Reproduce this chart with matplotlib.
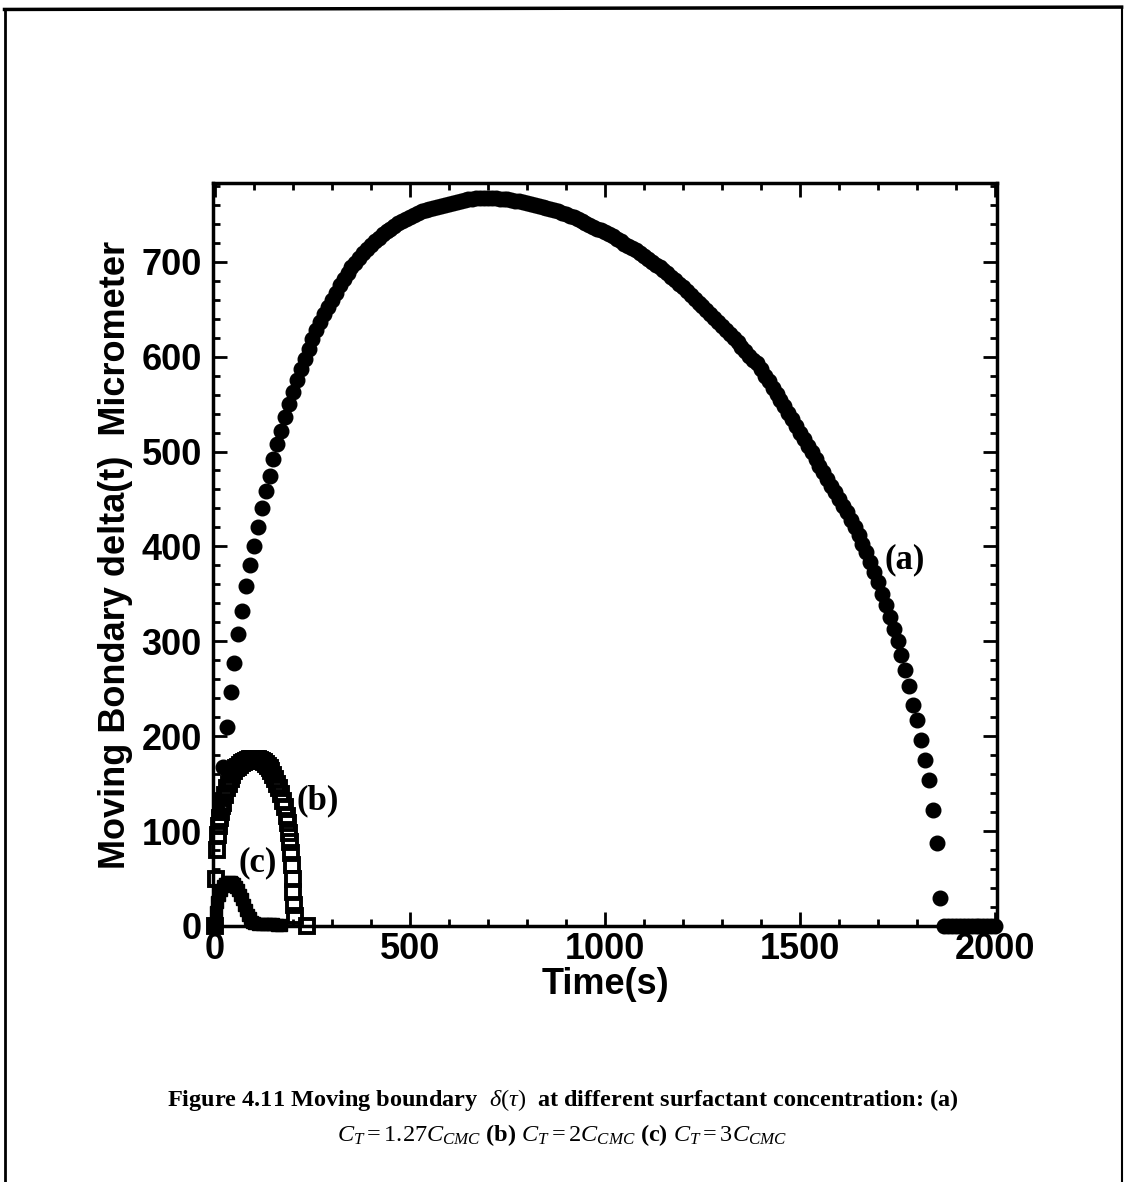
import matplotlib
matplotlib.use("Agg")
import matplotlib.pyplot as plt
from matplotlib.lines import Line2D
from matplotlib.ticker import MultipleLocator

# curve (a): C_T = 1.27 C_CMC, one dot every 10 s
time_a = list(range(0, 2001, 10))
delta_a = [
    0, 120, 168, 210, 247, 277, 308, 332, 358, 380,
    400, 420, 440, 458, 474, 492, 508, 522, 536, 550,
    563, 575, 587, 598, 608, 619, 628, 637, 645, 652,
    660, 667, 675, 682, 688, 694, 699, 704, 709, 713,
    718, 722, 725, 729, 732, 735, 738, 741, 743, 745,
    747, 749, 751, 753, 754, 756, 757, 758, 759, 760,
    761, 762, 763, 764, 765, 766, 766, 767, 767, 767,
    767, 767, 767, 766, 766, 766, 765, 764, 764, 763,
    762, 761, 760, 759, 758, 757, 756, 754, 753, 751,
    750, 748, 747, 745, 743, 741, 739, 737, 735, 733,
    731, 729, 727, 724, 722, 719, 717, 714, 712, 709,
    706, 703, 700, 697, 694, 691, 688, 684, 681, 677,
    673, 669, 665, 661, 657, 653, 649, 645, 641, 637,
    632, 628, 624, 620, 615, 610, 606, 601, 596, 593,
    587, 580, 574, 567, 561, 554, 548, 541, 534, 527,
    520, 513, 506, 499, 492, 485, 478, 471, 464, 457,
    450, 443, 436, 428, 420, 412, 403, 394, 384, 373,
    362, 350, 338, 326, 313, 300, 286, 270, 253, 233,
    217, 196, 175, 154, 122, 87, 30, 0, 0, 0,
    0, 0, 0, 0, 0, 0, 0, 0, 0, 0,
    0,
]

# curve (b): C_T = 2 C_CMC
time_b = [0, 2, 5, 8, 10, 13, 15, 18, 20, 25, 30, 35, 40, 45, 50, 55, 60, 65,
          70, 75, 80, 85, 90, 95, 100, 105, 110, 115, 120, 125, 130, 135, 140,
          145, 150, 155, 160, 165, 170, 175, 180, 185, 188, 191, 193, 195,
          197, 199, 201, 203, 205, 236]
delta_b = [0, 50, 80, 96, 105, 114, 120, 126, 130, 138, 145, 150, 155, 159,
           163, 166, 168, 170, 172, 173, 174, 175, 176, 176, 176, 176, 176,
           175, 174, 173, 171, 169, 166, 163, 159, 155, 150, 145, 139, 132,
           125, 116, 108, 98, 88, 77, 64, 50, 36, 22, 10, 0]

# curve (c): C_T = 3 C_CMC
time_c = [0, 2, 5, 10, 15, 20, 25, 30, 35, 40, 45, 50, 55, 60, 65, 70, 75,
          80, 85, 90, 95, 100, 110, 120, 130, 140, 150, 160, 170]
delta_c = [0, 15, 25, 33, 38, 42, 44, 45, 46, 46, 45, 44, 41, 38, 33, 28,
           22, 17, 12, 8, 4, 3, 2, 2, 2, 2, 2, 1, 1]

plt.rcParams["mathtext.fontset"] = "custom"
plt.rcParams["mathtext.rm"] = "Liberation Serif"
plt.rcParams["mathtext.it"] = "Liberation Serif:italic"
plt.rcParams["mathtext.bf"] = "Liberation Serif:bold"

fig = plt.figure(figsize=(11.25, 11.82), dpi=100, facecolor="white")
ax = fig.add_axes([0.1893, 0.2166, 0.6969, 0.6286])

ax.plot(time_a, delta_a, "o", color="black", markersize=10.5,
        linestyle="none", clip_on=False, zorder=3)
ax.plot(time_b, delta_b, "s", color="black", markerfacecolor="none",
        markersize=10, markeredgewidth=2.8, linestyle="none", clip_on=False,
        zorder=4)
ax.plot(time_c, delta_c, "s", color="black", markersize=9,
        linestyle="none", clip_on=False, zorder=4)

ax.set_xlim(-5, 2005)
ax.set_ylim(0, 783)
ax.xaxis.set_major_locator(MultipleLocator(500))
ax.xaxis.set_minor_locator(MultipleLocator(100))
ax.yaxis.set_major_locator(MultipleLocator(100))
ax.yaxis.set_minor_locator(MultipleLocator(20))
ax.tick_params(which="both", direction="in", top=True, right=True,
               width=2, colors="black")
ax.tick_params(which="major", length=10)
ax.tick_params(which="minor", length=5)
for lab in ax.get_xticklabels() + ax.get_yticklabels():
    lab.set_fontfamily("Liberation Sans")
    lab.set_fontweight("bold")
    lab.set_fontsize(26)
ax.tick_params(axis="x", pad=4)
ax.tick_params(axis="y", pad=8)
for s in ax.spines.values():
    s.set_linewidth(2.5)

ax.set_xlabel("Time(s)", fontfamily="Liberation Sans", fontweight="bold",
              fontsize=26, labelpad=0)
ax.set_ylabel("Moving Bondary delta(t)  Micrometer", fontfamily="Liberation Sans",
              fontweight="bold", fontsize=26, labelpad=6)

ann = dict(fontfamily="Liberation Serif", fontweight="bold", fontsize=25,
           ha="center", va="center")
ax.text(1769, 386, "(a)", **ann)
ax.text(264, 132, "(b)", **ann)
ax.text(110, 67, "(c)", **ann)

cap = dict(fontfamily="Liberation Serif", fontweight="bold", fontsize=17.5,
           ha="center", va="center")
fig.text(0.5, 1 - 1100 / 1182,
         r"Figure 4.11 Moving boundary  $\delta(\tau)$  at different surfactant concentration: (a)",
         **cap)
fig.text(0.5, 1 - 1135 / 1182,
         r"$C_T = 1.27C_{CMC}$ (b) $C_T = 2C_{CMC}$ (c) $C_T = 3C_{CMC}$",
         **cap)

# page frame
fig.add_artist(Line2D([0.004, 0.004], [0.0, 0.992], color="black", lw=2))
fig.add_artist(Line2D([0.004, 0.997], [0.992, 0.994], color="black", lw=2.5))
fig.add_artist(Line2D([0.997, 0.997], [0.0, 0.994], color="black", lw=1.5))

fig.savefig("out.png", dpi=100, facecolor="white")
